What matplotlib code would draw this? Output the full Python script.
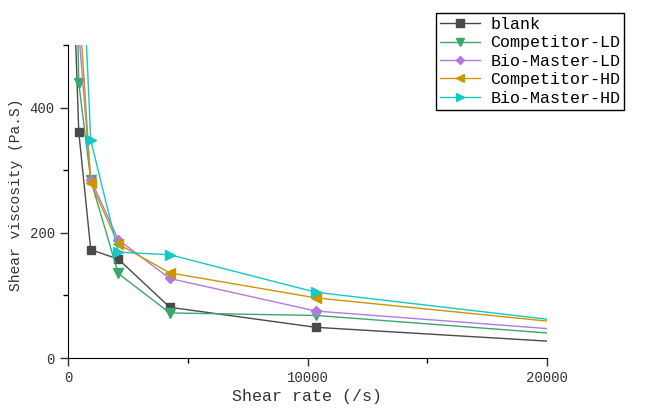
import numpy as np
import matplotlib.pyplot as plt

plt.rcParams['font.family'] = ['Liberation Mono', 'DejaVu Sans Mono']

# shear rate (1/s)
shear_rate = [100, 450, 950, 2100, 4250, 10350, 20000]

# shear viscosity (Pa.S)
blank = [750, 361, 173, 158, 81, 49, 27]
competitor_ld = [1150, 439, 284, 135, 72, 68, 40]
biomaster_ld = [1500, 521, 285, 189, 127, 75, 47]
competitor_hd = [1500, 575, 280, 182, 136, 96, 59]
biomaster_hd = [1500, 780, 348, 169, 165, 105, 62]

labels = ['blank', 'Competitor-LD', 'Bio-Master-LD', 'Competitor-HD', 'Bio-Master-HD']
series = [blank, competitor_ld, biomaster_ld, competitor_hd, biomaster_hd]
colors = ['#4a4a4a', '#38a96a', '#b27ae0', '#cc9600', '#12c8c8']
markers = ['s', 'v', 'D', '<', '>']
msizes = [6, 7, 5, 7, 7]

fig = plt.figure(figsize=(6.45, 4.11), dpi=100)
ax = fig.add_axes([68/645, 1-358/411, (547-68)/645, (358-45)/411])

for y, lab, c, m, ms in zip(series, labels, colors, markers, msizes):
    ax.plot(shear_rate, y, '-', color=c, linewidth=1.0, marker=m, markersize=ms,
            markevery=slice(1, -1), label=lab)

ax.set_xlim(0, 20000)
ax.set_ylim(0, 500)
ax.set_xticks([0, 10000, 20000])
ax.set_xticks([5000, 15000], minor=True)
ax.set_yticks([0, 200, 400])
ax.set_yticks([100, 300, 500], minor=True)
ax.spines['top'].set_visible(False)
ax.spines['right'].set_visible(False)
ax.tick_params(which='major', direction='out', length=6, width=1, labelsize=10, colors='#333333')
ax.tick_params(which='minor', direction='out', length=3.5, width=1)
ax.set_xlabel('Shear rate (/s)', fontsize=12, color='#333333', labelpad=3)
ax.set_ylabel('Shear viscosity (Pa.S)', fontsize=10.5, color='#333333', labelpad=3)
ax.yaxis.set_label_coords(-0.094, 0.52)

leg = fig.legend(loc='upper left', bbox_to_anchor=(436/645, 1-13/411), fontsize=12,
                 frameon=True, fancybox=False, edgecolor='black', framealpha=1,
                 handlelength=2.4, handletextpad=0.6, labelspacing=0.2,
                 borderpad=0.25, borderaxespad=0, markerscale=0.9)
leg.get_frame().set_linewidth(1.0)

fig.savefig('out.png', dpi=100)
